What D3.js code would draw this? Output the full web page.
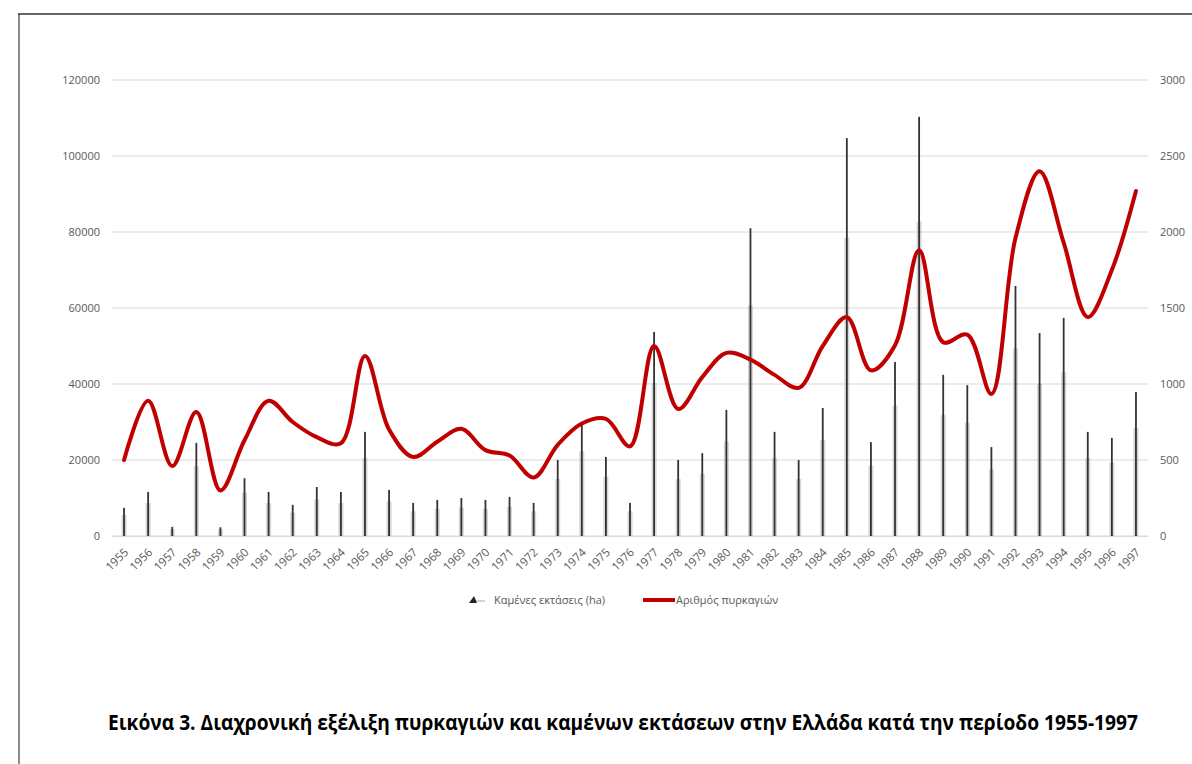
<!doctype html>
<html lang="el">
<head>
    <meta charset="UTF-8">
    <title>Πυρκαγιές στην Ελλάδα 1955-1997</title>
    <script src="https://d3js.org/d3.v7.min.js"></script>
    <style>
      body { margin: 0; background: #fff; }
      text { font-family: "Open Sans", "DejaVu Sans", sans-serif; }
    </style>
</head>
<body>
    <svg width="1192" height="764"></svg>

    <script>

      // Data
      const years = d3.range(1955, 1998);
      // burned area (ha), left axis
      const burned = [7400, 11600, 2400, 24500, 2300, 15200, 11600, 8200, 12900, 11600,
                      27400, 12100, 8700, 9500, 10000, 9500, 10300, 8700, 20000, 29700,
                      20800, 8700, 53700, 20000, 21800, 33200, 81000, 27400, 20000, 33700,
                      104700, 24700, 45800, 110300, 42400, 39700, 23400, 65800, 53400, 57400,
                      27400, 25800, 37900];
      // number of fires, right axis
      const fires = [500, 890, 460, 815, 300, 630, 890, 750, 650, 610,
                     1185, 700, 520, 620, 705, 565, 530, 385, 600, 740,
                     770, 590, 1250, 835, 1045, 1205, 1160, 1060, 975, 1250,
                     1440, 1090, 1255, 1880, 1275, 1325, 935, 1960, 2400, 1930,
                     1440, 1750, 2270];
      const leftTicks = [0, 20000, 40000, 60000, 80000, 100000, 120000];
      const rightTicks = [0, 500, 1000, 1500, 2000, 2500, 3000];
      const legendLabels = ["Καμένες εκτάσεις (ha)", "Αριθμός πυρκαγιών"];
      const caption = "Εικόνα 3. Διαχρονική εξέλιξη πυρκαγιών και καμένων εκτάσεων στην Ελλάδα κατά την περίοδο 1955-1997";

      const svg = d3.select("svg");
      const axisColor = "#595959";

      // frame
      svg.append("path")
          .attr("d", "M19,764 V14")
          .attr("stroke", "#8c8c8c").attr("stroke-width", 2).attr("fill", "none");
      svg.append("path")
          .attr("d", "M18,14 H1192")
          .attr("stroke", "#333").attr("stroke-width", 1.5).attr("fill", "none");

      // Scales
      const x = d3.scaleBand().domain(years).range([112, 1148]);
      const yL = d3.scaleLinear().domain([0, 120000]).range([536, 80]);
      const yR = d3.scaleLinear().domain([0, 3000]).range([536, 80]);

      // gridlines
      svg.append("g")
        .selectAll("line")
        .data(leftTicks)
        .join("line")
          .attr("x1", 112).attr("x2", 1148)
          .attr("y1", d => yL(d)).attr("y2", d => yL(d))
          .attr("stroke", "#d9d9d9").attr("stroke-width", 1);

      // left axis
      const leftAxis = d3.axisLeft(yL).tickValues(leftTicks).tickSize(0).tickPadding(12)
          .tickFormat(d3.format("d"));
      svg.append("g")
          .attr("transform", "translate(112,0)")
          .call(leftAxis)
          .call(g => g.select(".domain").remove())
          .call(g => g.selectAll("text").attr("fill", axisColor).style("font-size", "11px"));

      // right axis
      const rightAxis = d3.axisRight(yR).tickValues(rightTicks).tickSize(0).tickPadding(12)
          .tickFormat(d3.format("d"));
      svg.append("g")
          .attr("transform", "translate(1148,0)")
          .call(rightAxis)
          .call(g => g.select(".domain").remove())
          .call(g => g.selectAll("text").attr("fill", axisColor).style("font-size", "11px"));

      // bottom axis, rotated year labels
      const bottomAxis = d3.axisBottom(x).tickSize(0).tickPadding(0);
      svg.append("g")
          .attr("transform", "translate(0,536)")
          .call(bottomAxis)
          .call(g => g.select(".domain").attr("stroke", "#d9d9d9"))
          .call(g => g.selectAll("text")
              .attr("fill", axisColor)
              .style("font-size", "11.5px")
              .attr("text-anchor", "end")
              .attr("dy", 0)
              .attr("transform", "translate(5,17) rotate(-45)"));

      // burned area: thin scribbly bars
      const bars = svg.append("g");
      bars.selectAll("rect.halo")
        .data(years)
        .join("rect")
          .attr("class", "halo")
          .attr("x", d => x(d) + x.bandwidth() / 2 - 2.5)
          .attr("width", 5)
          .attr("y", (d, i) => yL(burned[i] * 0.75))
          .attr("height", (d, i) => yL(0) - yL(burned[i] * 0.75))
          .attr("fill", "#777").attr("opacity", 0.3);
      bars.selectAll("rect.core")
        .data(years)
        .join("rect")
          .attr("class", "core")
          .attr("x", d => x(d) + x.bandwidth() / 2 - 0.9)
          .attr("width", 1.8)
          .attr("y", (d, i) => yL(burned[i]))
          .attr("height", (d, i) => yL(0) - yL(burned[i]))
          .attr("fill", "#333");

      // number of fires: smoothed line
      const line = d3.line()
          .x((d, i) => x(years[i]) + x.bandwidth() / 2)
          .y(d => yR(d))
          .curve(d3.curveCatmullRom.alpha(0.5));
      svg.append("path")
          .datum(fires)
          .attr("d", line)
          .attr("fill", "none")
          .attr("stroke", "#c00000")
          .attr("stroke-width", 4)
          .attr("stroke-linejoin", "round")
          .attr("stroke-linecap", "round");

      // legend
      const legend = svg.append("g").style("font-size", "11px");
      legend.append("path")
          .attr("d", "M469,603 L474,596 L477,603 Z")
          .attr("fill", "#222");
      legend.append("line")
          .attr("x1", 476).attr("x2", 485).attr("y1", 601).attr("y2", 601)
          .attr("stroke", "#aaa").attr("stroke-width", 1);
      legend.append("text")
          .attr("x", 494).attr("y", 604)
          .attr("fill", axisColor)
          .text(legendLabels[0]);
      legend.append("line")
          .attr("x1", 643).attr("x2", 675).attr("y1", 600).attr("y2", 600)
          .attr("stroke", "#c00000").attr("stroke-width", 4);
      legend.append("text")
          .attr("x", 676).attr("y", 604)
          .attr("fill", axisColor)
          .text(legendLabels[1]);

      // caption (condensed bold look: slightly stretched vertically)
      svg.append("text")
          .attr("transform", "translate(108,730) scale(1,1.13)")
          .attr("textLength", 1030)
          .attr("lengthAdjust", "spacingAndGlyphs")
          .style("font-family", "'Liberation Sans Narrow', 'Open Sans', sans-serif")
          .style("font-weight", "bold")
          .style("font-size", "19px")
          .attr("fill", "#000")
          .text(caption);

    </script>

</body>
</html>
